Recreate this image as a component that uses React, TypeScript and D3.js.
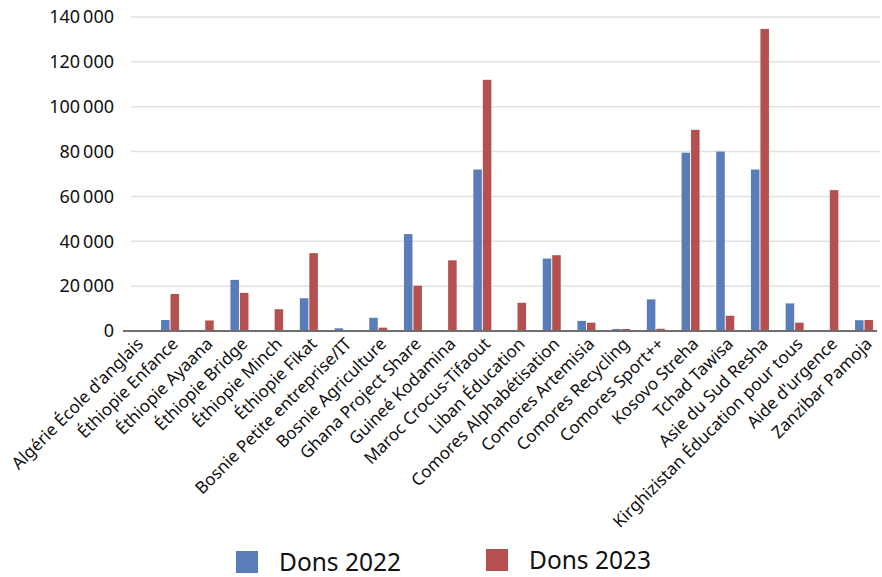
import React from "react";
import * as d3 from "d3";

const categories = [
  "Algérie École d'anglais",
  "Éthiopie Enfance",
  "Éthiopie Ayaana",
  "Éthiopie Bridge",
  "Éthiopie Minch",
  "Éthiopie Fikat",
  "Bosnie Petite entreprise/IT",
  "Bosnie Agriculture",
  "Ghana Project Share",
  "Guineé Kodamina",
  "Maroc Crocus-Tifaout",
  "Liban Éducation",
  "Comores Alphabétisation",
  "Comores Artemisia",
  "Comores Recycling",
  "Comores Sport++",
  "Kosovo Streha",
  "Tchad Tawisa",
  "Asie du Sud Resha",
  "Kirghizistan Éducation pour tous",
  "Aide d'urgence",
  "Zanzibar Pamoja",
];

const dons2022 = [
  0, 4900, 0, 22800, 0, 14600, 1200, 5900, 43200, 0, 72000, 0, 32300, 4500, 900,
  14100, 79500, 80000, 72000, 12300, 0, 4800,
];

const dons2023 = [
  0, 16500, 4700, 17000, 9700, 34700, 300, 1500, 20200, 31500, 112000, 12600,
  33800, 3700, 900, 1000, 89700, 6800, 134700, 3700, 62800, 4900,
];

const yTicks = [0, 20000, 40000, 60000, 80000, 100000, 120000, 140000];
const seriesNames = ["Dons 2022", "Dons 2023"];
const colors = ["#587DB8", "#B4514F"];

const W = 882;
const H = 577;
const FONT = "'Noto Sans', 'Open Sans', sans-serif";

export default function App() {
  const x = d3
    .scaleBand<string>()
    .domain(categories)
    .range([118, 881.4])
    .paddingInner(0)
    .paddingOuter(0);
  const y = d3.scaleLinear().domain([0, 140000]).range([331, 17]);
  const inner = d3
    .scaleBand<string>()
    .domain(seriesNames)
    .range([0, 18])
    .paddingInner(0.1);

  const fmt = (v: number) =>
    v === 0 ? "0" : d3.format(",")(v).replace(/,/g, "\u2009");

  const series = [dons2022, dons2023];

  return (
    <svg
      width={W}
      height={H}
      style={{ position: "absolute", left: 0, top: 0, background: "#fff" }}
      fontFamily={FONT}
    >
      {yTicks.map((t) =>
        t === 0 ? null : (
          <line
            key={"g" + t}
            x1={131}
            x2={880}
            y1={y(t)}
            y2={y(t)}
            stroke="#E2E2E2"
            strokeWidth={1.5}
          />
        )
      )}
      {yTicks.map((t) => (
        <text
          key={"t" + t}
          x={114}
          y={y(t)}
          dy="0.35em"
          textAnchor="end"
          fontSize={18}
          fill="#111"
        >
          {fmt(t)}
        </text>
      ))}
      {categories.map((c, i) => {
        const cx = (x(c) as number) + x.bandwidth() / 2;
        return (
          <g key={c}>
            {series.map((s, k) => {
              const v = s[i];
              if (v <= 0) return null;
              const bx = cx - 9 + (inner(seriesNames[k]) as number);
              return (
                <rect
                  key={k}
                  x={bx}
                  y={y(v)}
                  width={inner.bandwidth()}
                  height={y(0) - y(v)}
                  fill={colors[k]}
                />
              );
            })}
          </g>
        );
      })}
      <line x1={123} x2={877} y1={331} y2={331} stroke="#6E6E6E" strokeWidth={2} />
      {categories.map((c) => {
        const cx = (x(c) as number) + x.bandwidth() / 2;
        return (
          <text
            key={"l" + c}
            transform={`translate(${cx + 9},${345}) rotate(-45)`}
            textAnchor="end"
            fontSize={17}
            fill="#111"
          >
            {c}
          </text>
        );
      })}
      {seriesNames.map((n, k) => {
        const lx = k === 0 ? 236 : 486;
        const ly = k === 0 ? 551 : 549;
        return (
          <g key={n}>
            <rect x={lx} y={ly} width={22} height={22} fill={colors[k]} />
            <text x={lx + 43} y={ly + 20} fontSize={24.5} fill="#111">
              {n}
            </text>
          </g>
        );
      })}
    </svg>
  );
}
